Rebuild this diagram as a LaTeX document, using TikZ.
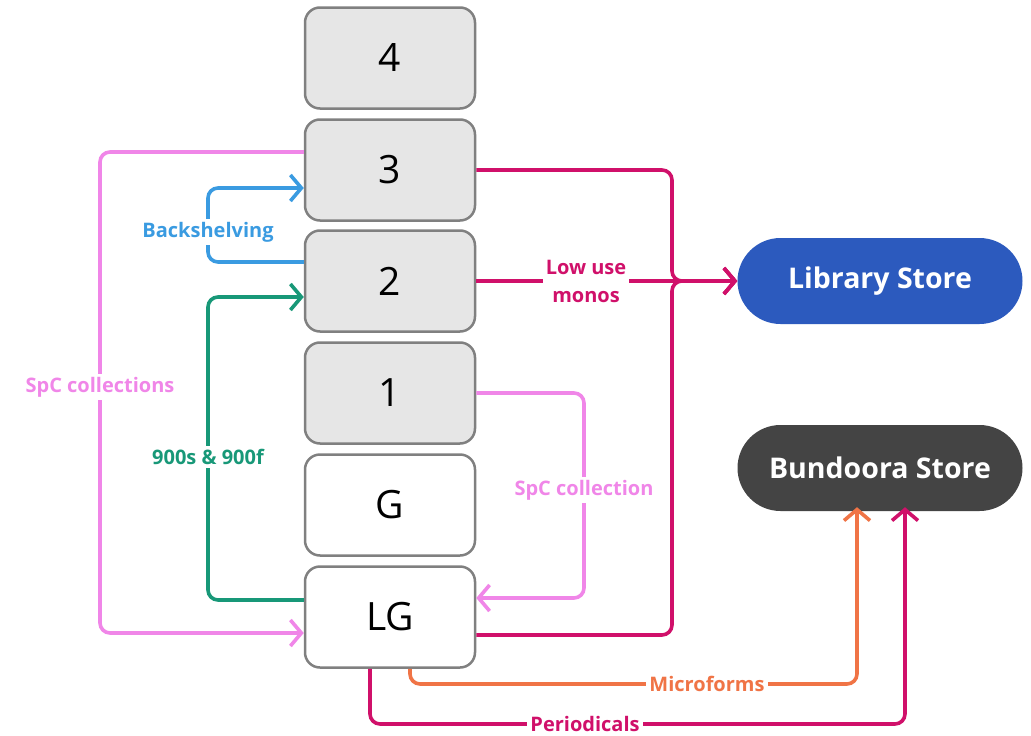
\documentclass[tikz,border=0pt]{standalone}
\usepackage{fontspec}
\setmainfont{Open Sans}
\usetikzlibrary{arrows.meta}
\definecolor{boxgray}{RGB}{230,230,230}
\definecolor{edgegray}{RGB}{128,128,128}
\definecolor{spcpink}{RGB}{240,134,232}
\definecolor{backblue}{RGB}{58,155,225}
\definecolor{teal900}{RGB}{24,152,120}
\definecolor{mag}{RGB}{208,16,106}
\definecolor{orng}{RGB}{240,116,70}
\definecolor{libblue}{RGB}{44,90,190}
\definecolor{bundgray}{RGB}{68,68,68}
\begin{document}
\begin{tikzpicture}[x=1pt,y=-1pt,
  floorbox/.style={draw=edgegray,line width=2.5pt,rounded corners=15pt,minimum width=170pt,minimum height=101pt,font=\fontsize{39}{41}\selectfont,inner sep=0pt},
  greyfloor/.style={floorbox,fill=boxgray},
  whitefloor/.style={floorbox,fill=white},
  store/.style={rounded corners=43pt,minimum width=285pt,minimum height=86pt,text=white,font=\bfseries\fontsize{28.5}{30}\selectfont,inner sep=0pt},
  conn/.style={line width=3.6pt,rounded corners=10pt,-{Straight Barb[length=11pt,width=26pt,line width=3.6pt]}},
  lbl/.style={fill=white,inner sep=3pt,font=\bfseries\fontsize{20}{28}\selectfont,align=center}
]
\useasboundingbox (0,0) rectangle (1031,736);
\fill[white] (0,0) rectangle (1031,736);

\node[greyfloor] (n4) at (390,58) {4};
\node[greyfloor] (n3) at (390,170) {3};
\node[greyfloor] (n2) at (390,281) {2};
\node[greyfloor] (n1) at (390,393) {1};
\node[whitefloor] (nG) at (390,505) {G};
\node[whitefloor] (nLG) at (390,617) {LG};

\node[store,fill=libblue] (lib) at (880,281) {Library Store};
\node[store,fill=bundgray] (bund) at (880,468) {Bundoora Store};

% SpC collections (3 -> LG, left)
\draw[conn,draw=spcpink] ([yshift=18pt]n3.west) -| (100,400) |- ([yshift=-16pt]nLG.west);
\node[lbl,text=spcpink] (lspc) at (100,387) {SpC collections};

% Backshelving (2 -> 3)
\draw[conn,draw=backblue] ([yshift=19pt]n2.west) -| (208,230) |- ([yshift=-18pt]n3.west);
\node[lbl,text=backblue] (lback) at (208,232) {Backshelving};

% 900s & 900f (LG -> 2)
\draw[conn,draw=teal900] ([yshift=17pt]nLG.west) -| (208,450) |- ([yshift=-16pt]n2.west);
\node[lbl,text=teal900] (l900) at (208,457) {900s \& 900f};

% SpC collection (1 -> LG, right)
\draw[conn,draw=spcpink] (n1.east) -| (584,500) |- ([yshift=19pt]nLG.east);
\node[lbl,text=spcpink] (lspc2) at (584,490) {SpC collection};

% to Library Store
\draw[conn,draw=mag] (n3.east) -| (672,281) -- (lib.west);
\draw[conn,draw=mag] ([yshift=-18pt]nLG.east) -| (672,281) -- (lib.west);
\draw[conn,draw=mag] (n2.east) -- (lib.west);
\node[lbl,text=mag] (llow) at (586,281) {Low use\\monos};

% to Bundoora Store
\draw[conn,draw=orng,shorten >=-4pt] ([xshift=20pt]nLG.south) |- (857,684) -- ([xshift=-23pt]bund.south);
\node[lbl,text=orng] (lmic) at (707,684) {Microforms};
\draw[conn,draw=mag,shorten >=-4pt] ([xshift=-20pt]nLG.south) |- (905,724) -- ([xshift=25pt]bund.south);
\node[lbl,text=mag] (lper) at (585,724) {Periodicals};
\end{tikzpicture}
\end{document}
